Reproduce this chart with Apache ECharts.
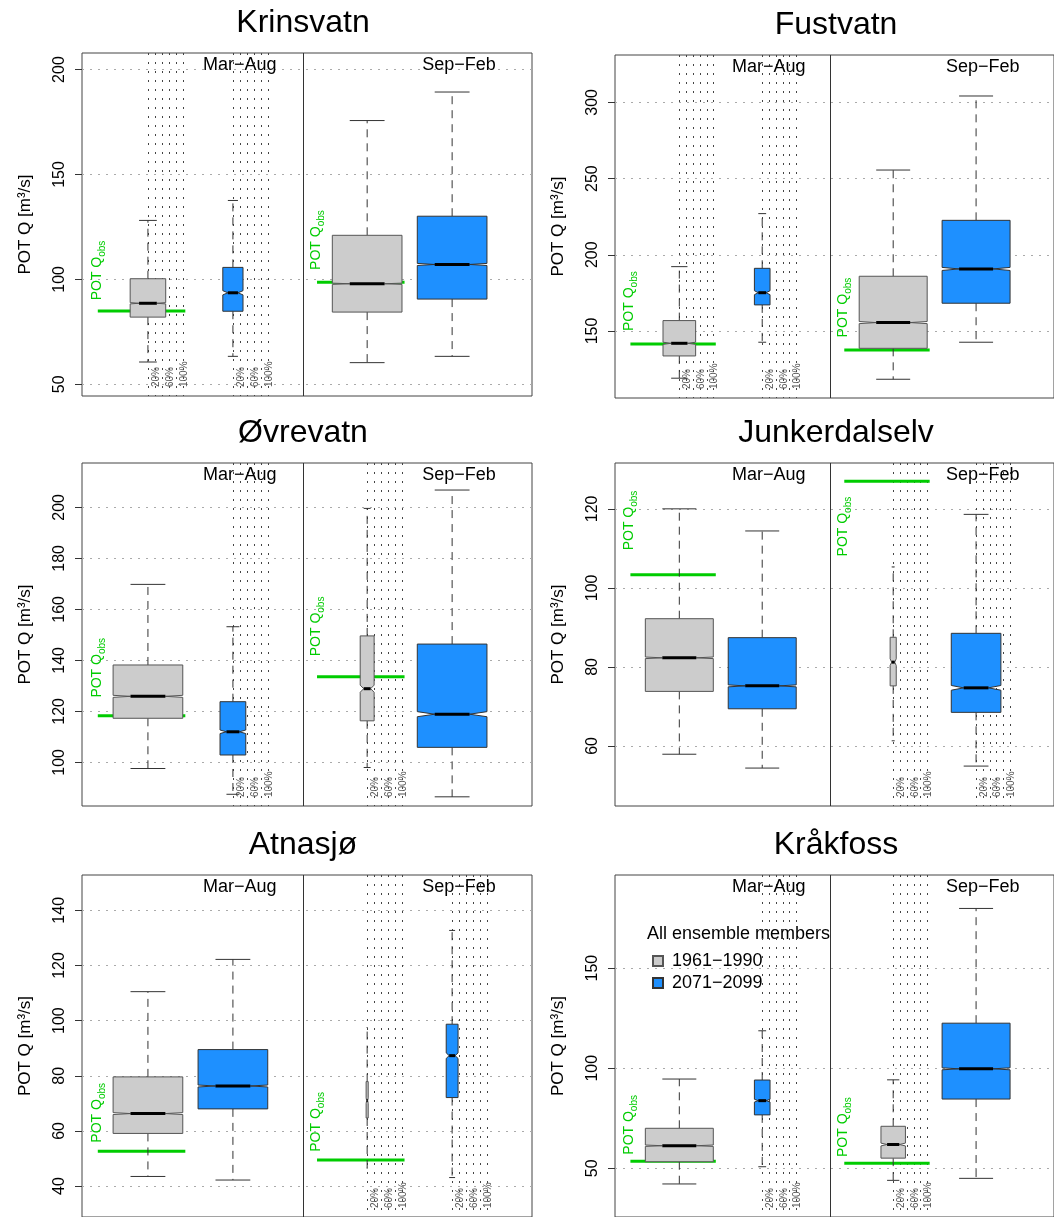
<!DOCTYPE html>
<html><head><meta charset="utf-8">
<script src="https://cdn.jsdelivr.net/npm/echarts@6/dist/echarts.min.js"></script>
<style>html,body{margin:0;padding:0;background:#fff}#c{width:1054px;height:1217px}</style>
</head><body><div id="c"></div>
<script>
// ---------------- data ----------------
const stations = ['Krinsvatn', 'Fustvatn', 'Øvrevatn', 'Junkerdalselv', 'Atnasjø', 'Kråkfoss'];
const seasons = ['Mar−Aug', 'Sep−Feb'];
const periods = ['1961−1990', '2071−2099'];
const pctLabels = ['20%', '60%', '100%'];
const legendTitle = 'All ensemble members';
const yAxisName = 'POT Q [m³/s]';

// [lower whisker, lower hinge, median, upper hinge, upper whisker]
// order: Mar−Aug 1961−1990, Mar−Aug 2071−2099, Sep−Feb 1961−1990, Sep−Feb 2071−2099
const statsKrinsvatn = [[60.6, 82.0, 88.6, 100.3, 128.1], [63.3, 84.8, 93.6, 105.7, 137.6], [60.3, 84.4, 97.9, 121.0, 175.7], [63.3, 90.6, 107.1, 130.1, 189.3]];
const statsFustvatn = [[119.0, 133.6, 141.9, 156.8, 192.2], [142.6, 167.1, 175.1, 191.1, 227.0], [118.3, 138.6, 155.5, 185.9, 255.6], [142.6, 168.2, 190.7, 222.6, 304.2]];
const statsOvrevatn = [[97.6, 117.3, 125.9, 138.2, 169.8], [87.5, 102.9, 112.0, 123.8, 153.2], [98.0, 116.3, 128.9, 149.6, 199.6], [86.5, 105.9, 118.9, 146.4, 206.8]];
const statsJunkerdalselv = [[57.9, 73.8, 82.3, 92.2, 120.0], [54.4, 69.4, 75.2, 87.4, 114.4], [61.3, 75.2, 81.2, 87.5, 105.3], [54.9, 68.5, 74.7, 88.5, 118.6]];
const statsAtnasjo = [[43.5, 59.1, 66.3, 79.6, 110.5], [42.2, 68.0, 76.3, 89.5, 122.2], [46.5, 64.7, 71.0, 77.9, 97.5], [43.1, 72.1, 87.3, 98.7, 132.7]];
const statsKrakfoss = [[42.2, 53.3, 61.3, 70.0, 94.6], [50.8, 76.7, 83.8, 94.1, 118.7], [44.0, 55.1, 61.9, 71.0, 94.2], [45.0, 84.6, 99.7, 122.5, 179.8]];
const boxStats = [statsKrinsvatn, statsFustvatn, statsOvrevatn, statsJunkerdalselv, statsAtnasjo, statsKrakfoss];

// share of ensemble members (box width), same order
const memberShare = [[0.51, 0.29, 1, 1], [0.48, 0.23, 1, 1], [1, 0.37, 0.20, 1], [1, 1, 0.09, 0.73], [1, 1, 0.03, 0.17], [1, 0.23, 0.36, 1]];
// notch half-height (m3/s), same order
const notchHalf = [[0.3, 1.0, 0.3, 0.5], [0.7, 1.3, 0.7, 1.0], [0.4, 0.7, 1.4, 1.0], [0.2, 0.25, 0.85, 0.6], [0.35, 0.35, 1.0, 1.0], [0.35, 0.7, 0.7, 0.5]];
// observed POT Q: [Mar−Aug, Sep−Feb]
const obsPOT = [[84.9, 98.6], [141.5, 137.5], [118.3, 133.6], [103.3, 127.0], [52.6, 49.5], [53.6, 52.5]];
// y axis ticks and limits
const yTickValues = [[50, 100, 150, 200], [150, 200, 250, 300], [100, 120, 140, 160, 180, 200], [60, 80, 100, 120], [40, 60, 80, 100, 120, 140], [50, 100, 150]];
const yLimits = [[44.4, 207.9], [106.0, 331.1], [82.9, 217.4], [44.8, 131.6], [28.8, 152.8], [25.7, 196.5]];

// ---------------- layout ----------------
const FONT = '"Liberation Sans", Arial, Helvetica, sans-serif';
const panelLeft = [82, 615, 82, 615, 82, 615];
const panelTop = [53, 55, 463, 463, 875, 875];
const PW = 450, PH = 343;
const X_MIN = 0.224, X_MAX = 5.52;
const AT = [[1, 2], [3.58, 4.58]]; // [season][period]
const SEP = 2.82;
const HW = 0.41;
const FILL = ['#CCCCCC', '#1E90FF'];
const STROKE = ['#555555', '#333333'];
const GREEN = '#00CC00';

function crisp(v) { return Math.round(v) + 0.5; }

function boxRenderer(fill, stroke) {
  return function (params, api) {
    const at = api.value(0), mn = api.value(1), q1 = api.value(2), md = api.value(3),
      q3 = api.value(4), mx = api.value(5), share = api.value(6), nh = api.value(7);
    const hw = HW * share;
    const c = (x, y) => api.coord([x, y]);
    const children = [];
    const seg = (x1, y1, x2, y2, st) => {
      const a = c(x1, y1), b = c(x2, y2);
      children.push({ type: 'line', shape: { x1: a[0], y1: a[1], x2: b[0], y2: b[1] }, style: st });
    };
    const solid = { stroke: '#333', lineWidth: 1 };
    const dash = { stroke: '#333', lineWidth: 1, lineDash: [8, 6] };
    seg(at, q3, at, mx, dash);
    seg(at, q1, at, mn, dash);
    seg(at - hw / 2, mx, at + hw / 2, mx, solid);
    seg(at - hw / 2, mn, at + hw / 2, mn, solid);
    const pts = [[at - hw, q3], [at + hw, q3], [at + hw, md + nh], [at + hw / 2, md], [at + hw, md - nh],
      [at + hw, q1], [at - hw, q1], [at - hw, md - nh], [at - hw / 2, md], [at - hw, md + nh]].map(p => c(p[0], p[1]));
    children.push({ type: 'polygon', shape: { points: pts }, style: { fill: fill, stroke: stroke, lineWidth: 1 } });
    seg(at - hw / 2, md, at + hw / 2, md, { stroke: '#000', lineWidth: 3 });
    return { type: 'group', children: children };
  };
}

function decorRenderer(params, api) {
  const g = api.value(0), obs = api.value(1);
  const shares = [api.value(2), api.value(3)];
  const cs = params.coordSys;
  const top = cs.y, bottom = cs.y + cs.height;
  const children = [];
  // percent reference lines for boxes narrower than 100 %
  for (let p = 0; p < 2; p++) {
    if (shares[p] >= 1) continue;
    const at = AT[g][p];
    for (let k = 0; k <= 5; k++) {
      const x = crisp(api.coord([at + k * 0.2 * HW, obs])[0]);
      children.push({ type: 'line', shape: { x1: x, y1: top, x2: x, y2: bottom },
        style: { stroke: '#444', lineWidth: 1, lineDash: [2, 7] } });
      if (k % 2 === 1) {
        children.push({ type: 'text', x: x + 0.5, y: bottom - 9, rotation: Math.PI / 2,
          style: { text: pctLabels[(k - 1) / 2], fontSize: 10, fontFamily: FONT, fill: '#555',
            align: 'left', textAlign: 'left', verticalAlign: 'middle', textVerticalAlign: 'middle' } });
      }
    }
  }
  // observed POT line
  const ga = AT[g][0];
  const a = api.coord([ga - 0.59, obs]), b = api.coord([ga + 0.44, obs]);
  children.push({ type: 'line', shape: { x1: a[0], y1: a[1], x2: b[0], y2: b[1] }, style: { stroke: GREEN, lineWidth: 3 } });
  let ly = api.coord([ga, obs * 1.06])[1];
  if (ly - 62 < top) ly = api.coord([ga, obs * 0.85])[1];
  const lx = api.coord([ga - 0.6, obs])[0];
  children.push({ type: 'text', x: lx, y: ly, rotation: Math.PI / 2,
    style: { text: '{a|POT Q}{b|obs}', fill: GREEN, fontFamily: FONT,
      align: 'left', textAlign: 'left', verticalAlign: 'middle', textVerticalAlign: 'middle',
      rich: { a: { fontSize: 14, fill: GREEN, fontFamily: FONT, lineHeight: 20, verticalAlign: 'middle' },
        b: { fontSize: 10, fill: GREEN, fontFamily: FONT, lineHeight: 10, verticalAlign: 'bottom' } } } });
  // season label
  const sx = api.coord([AT[g][1] + 0.08, obs])[0];
  children.push({ type: 'text', x: sx, y: top + 12,
    style: { text: seasons[g], fontSize: 18, fontFamily: FONT, fill: '#000',
      align: 'center', textAlign: 'center', verticalAlign: 'middle', textVerticalAlign: 'middle' } });
  if (g === 0) {
    const sxp = crisp(api.coord([SEP, obs])[0]);
    children.push({ type: 'line', shape: { x1: sxp, y1: top, x2: sxp, y2: bottom }, style: { stroke: '#333', lineWidth: 1 } });
  }
  return { type: 'group', children: children };
}

const grids = [], xAxes = [], yAxes = [], series = [], graphics = [];
stations.forEach((name, i) => {
  grids.push({ left: panelLeft[i], top: panelTop[i], width: PW, height: PH, show: true,
    borderColor: '#444', borderWidth: 1, backgroundColor: 'transparent' });
  xAxes.push({ gridIndex: i, type: 'value', min: X_MIN, max: X_MAX, show: false });
  yAxes.push({ gridIndex: i, type: 'value', min: yLimits[i][0], max: yLimits[i][1],
    axisLine: { show: false },
    axisTick: { show: true, length: 7, inside: false, customValues: yTickValues[i], lineStyle: { color: '#333' } },
    axisLabel: { customValues: yTickValues[i], rotate: 90, margin: 14, fontSize: 16, color: '#000', fontFamily: FONT },
    splitLine: { show: true, lineStyle: { color: '#aaaaaa', type: [2, 6], width: 1 } },
    name: yAxisName, nameLocation: 'middle', nameGap: 48,
    nameTextStyle: { fontSize: 17, color: '#000', fontFamily: FONT } });
  series.push({ type: 'custom', name: 'decor' + i, xAxisIndex: i, yAxisIndex: i, z: 1, silent: true,
    renderItem: decorRenderer,
    encode: { x: 0, y: 1 },
    data: [0, 1].map(g => [g, obsPOT[i][g], memberShare[i][g * 2], memberShare[i][g * 2 + 1]]) });
  for (let p = 0; p < 2; p++) {
    series.push({ type: 'custom', name: periods[p], xAxisIndex: i, yAxisIndex: i, z: 3, silent: true,
      itemStyle: { color: FILL[p], borderColor: STROKE[p], borderWidth: 1 },
      renderItem: boxRenderer(FILL[p], STROKE[p]),
      encode: { x: 0, y: [1, 2, 3, 4, 5] },
      data: [0, 1].map(g => {
        const k = g * 2 + p;
        return [AT[g][p]].concat(boxStats[i][k], [memberShare[i][k], notchHalf[i][k]]);
      }) });
  }
  graphics.push({ type: 'text', x: panelLeft[i] + 221, y: panelTop[i] - 30,
    style: { text: name, fontSize: 32, fontFamily: FONT, fill: '#000',
      align: 'center', textAlign: 'center', verticalAlign: 'middle', textVerticalAlign: 'middle' } });
});
graphics.push({ type: 'text', x: 647, y: 934,
  style: { text: legendTitle, fontSize: 18, fontFamily: FONT, fill: '#000',
    align: 'left', textAlign: 'left', verticalAlign: 'middle', textVerticalAlign: 'middle' } });

const chart = echarts.init(document.getElementById('c'), null, { renderer: 'canvas' });
chart.setOption({
  animation: false,
  backgroundColor: '#fff',
  grid: grids, xAxis: xAxes, yAxis: yAxes, series: series,
  graphic: graphics,
  legend: { orient: 'vertical', left: 652, top: 952, itemWidth: 10, itemHeight: 10, itemGap: 4, padding: 0,
    selectedMode: false,
    data: [{ name: periods[0], icon: 'rect' }, { name: periods[1], icon: 'rect' }],
    textStyle: { fontSize: 18, color: '#000', fontFamily: FONT, padding: [0, 0, 0, 4] } }
});
</script></body></html>
